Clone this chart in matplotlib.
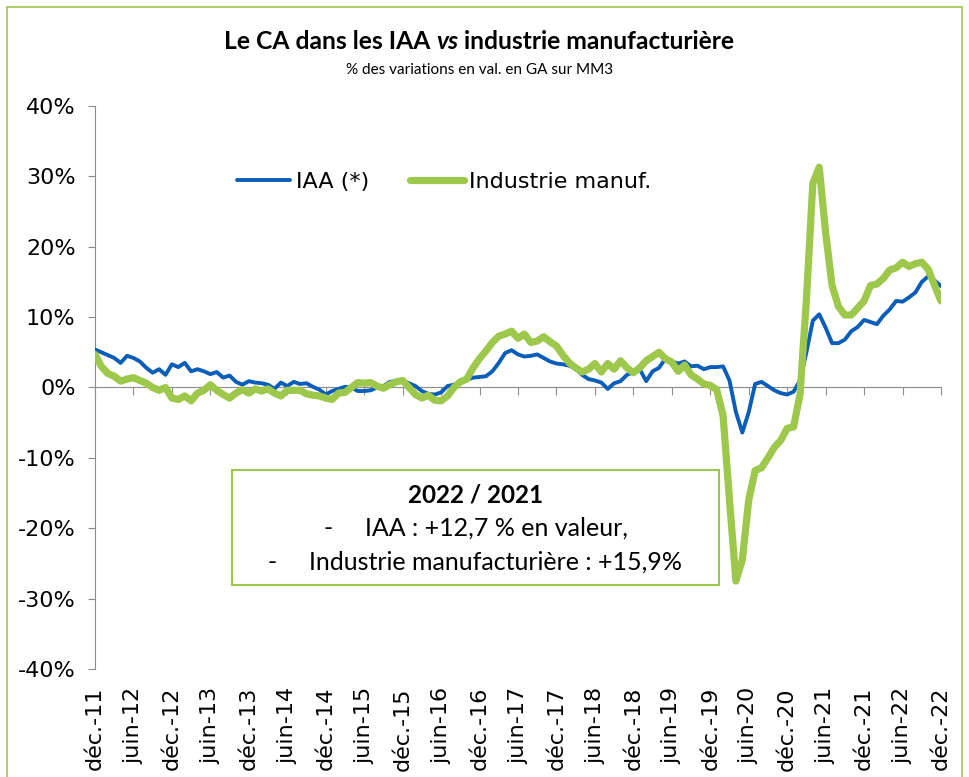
import matplotlib
matplotlib.use('Agg')
import matplotlib.pyplot as plt
from matplotlib.patches import Rectangle
import numpy as np

# IAA (*) : % variation en GA sur MM3, de déc.-11 à déc.-22 (mensuel)
iaa = [5.4, 5.0, 4.6, 4.2, 3.5, 4.5, 4.2, 3.7, 2.8, 2.1, 2.6, 1.8,
       3.3, 2.9, 3.5, 2.3, 2.6, 2.3, 1.9, 2.2, 1.4, 1.7, 0.8, 0.4,
       0.9, 0.7, 0.6, 0.4, -0.2, 0.7, 0.2, 0.8, 0.5, 0.6, 0.1, -0.3,
       -1.0, -0.5, -0.2, 0.1, 0.0, -0.5, -0.5, -0.4, 0.0, 0.2, 0.8, 0.9,
       1.0, 0.6, 0.2, -0.5, -0.9, -1.0, -0.7, 0.2, 0.4, 0.7, 1.1, 1.4,
       1.5, 1.6, 2.3, 3.5, 4.9, 5.3, 4.7, 4.4, 4.5, 4.7, 4.2, 3.7,
       3.4, 3.3, 3.1, 2.7, 1.8, 1.2, 1.0, 0.7, -0.2, 0.6, 0.9, 1.8,
       2.2, 2.6, 0.9, 2.3, 2.8, 4.1, 3.7, 3.4, 3.7, 3.0, 3.1, 2.6,
       2.9, 2.9, 3.0, 1.0, -3.5, -6.4, -3.5, 0.5, 0.8, 0.2, -0.4, -0.8,
       -1.0, -0.6, 1.0, 5.0, 9.5, 10.4, 8.5, 6.3, 6.3, 6.8, 8.0, 8.6,
       9.6, 9.3, 9.0, 10.2, 11.1, 12.3, 12.2, 12.8, 13.5, 15.0, 15.8, 15.2,
       14.4]

# Industrie manufacturière
industrie = [4.7, 3.0, 2.0, 1.6, 0.9, 1.2, 1.4, 1.0, 0.6, 0.0, -0.4, 0.0,
             -1.5, -1.7, -1.2, -1.9, -0.8, -0.4, 0.4, -0.4, -1.0, -1.5, -0.8, -0.3,
             -0.8, -0.2, -0.5, -0.2, -0.8, -1.2, -0.4, -0.4, -0.4, -0.9, -1.1, -1.2,
             -1.5, -1.7, -0.8, -0.7, 0.0, 0.7, 0.6, 0.7, 0.2, -0.1, 0.4, 0.8,
             1.0, 0.0, -1.0, -1.5, -1.1, -1.8, -1.9, -1.2, 0.0, 0.8, 1.2, 2.8,
             4.1, 5.2, 6.4, 7.3, 7.6, 8.0, 7.0, 7.6, 6.4, 6.6, 7.2, 6.5,
             5.9, 4.6, 3.5, 2.8, 2.2, 2.6, 3.4, 2.2, 3.4, 2.6, 3.8, 2.8,
             2.1, 2.8, 3.8, 4.4, 5.0, 4.1, 3.6, 2.3, 3.2, 1.8, 1.2, 0.5,
             0.3, -0.3, -4.0, -16.0, -27.5, -24.5, -16.0, -11.8, -11.4, -10.0, -8.5, -7.5,
             -5.8, -5.6, -1.0, 12.5, 29.0, 31.3, 22.0, 14.5, 11.5, 10.3, 10.3, 11.3,
             12.3, 14.5, 14.7, 15.5, 16.7, 17.0, 17.8, 17.2, 17.6, 17.8, 16.8, 14.5,
             12.3]

x_labels = ['déc.-11', 'juin-12', 'déc.-12', 'juin-13', 'déc.-13', 'juin-14',
            'déc.-14', 'juin-15', 'déc.-15', 'juin-16', 'déc.-16', 'juin-17',
            'déc.-17', 'juin-18', 'déc.-18', 'juin-19', 'déc.-19', 'juin-20',
            'déc.-20', 'juin-21', 'déc.-21', 'juin-22', 'déc.-22']
y_ticks = [-40, -30, -20, -10, 0, 10, 20, 30, 40]
y_labels = ['-40%', '-30%', '-20%', '-10%', '0%', '10%', '20%', '30%', '40%']

BLUE = '#0A5DB8'
GREEN = '#9DC84B'
GREY = '#8C8C8C'

W, H = 969, 777
fig = plt.figure(figsize=(W / 100, H / 100), dpi=100)

def fx(px):
    return px / W

def fy(py):
    return 1 - py / H

# cadre vert autour du graphique
fig.patches.append(Rectangle((fx(7), fy(790)), fx(962) - fx(7), fy(7) - fy(790),
                             transform=fig.transFigure, fill=False,
                             edgecolor=GREEN, lw=1.2))

ax = fig.add_axes([fx(95), fy(669), fx(941) - fx(95), fy(106) - fy(669)])
months = np.arange(len(iaa))
ax.plot(months, iaa, color=BLUE, lw=2.8, solid_joinstyle='round',
        solid_capstyle='round', label='IAA (*)', zorder=3)
ax.plot(months, industrie, color=GREEN, lw=5.2, solid_joinstyle='round',
        solid_capstyle='round', label='Industrie manuf.', zorder=4)

ax.set_xlim(0, len(iaa) - 1)
ax.set_ylim(-40, 40)

# axe horizontal à 0 avec graduations vers le bas
for s in ['top', 'right']:
    ax.spines[s].set_visible(False)
ax.spines['bottom'].set_position(('data', 0))
ax.spines['bottom'].set_color(GREY)
ax.spines['left'].set_color(GREY)
tick_pos = months[::6]
ax.set_xticks(tick_pos)
ax.tick_params(axis='x', direction='out', length=6, color=GREY, labelbottom=False)
ax.set_yticks(y_ticks, y_labels)
ax.tick_params(axis='y', direction='out', length=5, color=GREY, pad=9,
               labelsize=16)

# étiquettes de dates en bas
sec = ax.secondary_xaxis('bottom')
sec.set_xticks(tick_pos, x_labels, rotation=90, fontsize=16)
sec.tick_params(length=0, pad=13)
sec.spines['bottom'].set_visible(False)

ax.legend(loc='center left', bbox_to_anchor=(fx(237), fy(182)),
          bbox_transform=fig.transFigure, ncol=2, frameon=False,
          handlelength=2.4, handletextpad=0.25, columnspacing=1.85,
          borderpad=0, borderaxespad=0, prop={'family': 'DejaVu Sans', 'size': 16})

# titre avec "vs" en italique
t_vs = fig.text(fx(447), fy(53), 'vs', family='Lato', weight='bold', style='italic',
                fontsize=17.7, ha='center', va='bottom')
ax.annotate('Le CA dans les IAA', xy=(0, 0), xycoords=t_vs, xytext=(-4, 0),
            textcoords='offset points', family='Lato', weight='bold', fontsize=17.7,
            ha='right', va='bottom', annotation_clip=False)
ax.annotate('industrie manufacturière', xy=(1, 0), xycoords=t_vs, xytext=(4, 0),
            textcoords='offset points', family='Lato', weight='bold', fontsize=17.7,
            ha='left', va='bottom', annotation_clip=False)
fig.text(fx(480), fy(70), '% des variations en val. en GA sur MM3', family='Lato',
         fontsize=11, ha='center', va='center')

# encadré
fig.patches.append(Rectangle((fx(232), fy(585)), fx(719) - fx(232), fy(470) - fy(585),
                             transform=fig.transFigure, fill=False,
                             edgecolor=GREEN, lw=1.5))
fig.text(fx(476), fy(495), '2022 / 2021', family='Lato', weight='bold',
         fontsize=17.5, ha='center', va='center')
fig.text(fx(476), fy(528), '-     IAA : +12,7 % en valeur,', family='Lato',
         fontsize=18, ha='center', va='center')
fig.text(fx(475), fy(562), '-     Industrie manufacturière : +15,9%', family='Lato',
         fontsize=18, ha='center', va='center')

fig.savefig('out.png', dpi=100)
